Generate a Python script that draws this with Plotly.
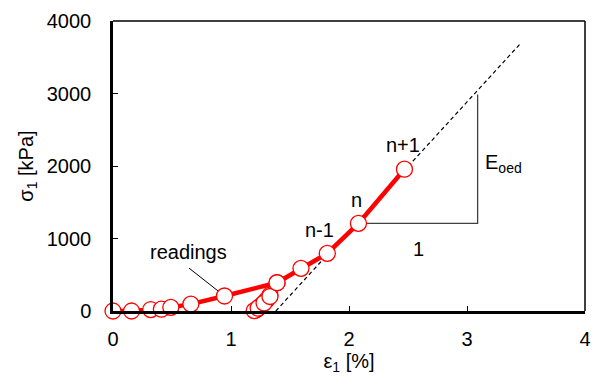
import plotly.graph_objects as go

# Oedometer test readings: axial strain [%] and axial stress [kPa]
strain = [0.0, 0.157, 0.32, 0.41, 0.49, 0.66, 0.945, 1.39,
          1.33, 1.30, 1.27, 1.24, 1.215, 1.197,
          1.23, 1.28, 1.33, 1.39, 1.593, 1.816, 2.08, 2.47]
stress = [0, 0, 20, 25, 50, 95, 207, 390,
          220, 150, 100, 55, 20, 5,
          40, 110, 200, 390, 588, 795, 1208, 1956]

# Tangent (oedometric modulus) line and slope triangle
tangent_x = [1.38, 3.46]
tangent_y = [0, 3702]
triangle_x = [2.08, 3.09, 3.09]
triangle_y = [1208, 1208, 2985]

# Leader line for the "readings" label
leader_x = [0.644, 0.95]
leader_y = [592, 200]

x_ticks = [0, 1, 2, 3, 4]
y_ticks = [0, 1000, 2000, 3000, 4000]

FONT = "Liberation Sans, Arial, sans-serif"
RED = "#FF0000"
FS = 20

fig = go.Figure()

fig.add_trace(go.Scatter(
    x=tangent_x, y=tangent_y, mode="lines",
    line=dict(color="black", width=1.2, dash="4px,3px"),
    hoverinfo="skip", showlegend=False, cliponaxis=False))

fig.add_trace(go.Scatter(
    x=triangle_x, y=triangle_y, mode="lines",
    line=dict(color="#404040", width=1.3),
    hoverinfo="skip", showlegend=False, cliponaxis=False))

fig.add_trace(go.Scatter(
    x=leader_x, y=leader_y, mode="lines",
    line=dict(color="black", width=1),
    hoverinfo="skip", showlegend=False, cliponaxis=False))

fig.add_trace(go.Scatter(
    x=strain, y=stress, mode="lines+markers",
    line=dict(color=RED, width=4.5),
    marker=dict(size=16, color="white", line=dict(color=RED, width=1.3)),
    showlegend=False, cliponaxis=False))

fig.update_xaxes(
    range=[0, 4], tickvals=x_ticks, ticktext=[str(v) for v in x_ticks],
    showgrid=False, zeroline=False, showline=True, linecolor="black", linewidth=2.5,
    ticks="inside", ticklen=5, tickwidth=1.3, tickcolor="black",
    ticklabelstandoff=8,
    tickfont=dict(family=FONT, size=FS, color="black"),
    title=dict(text="ε<sub>1</sub> [%]", font=dict(family=FONT, size=FS, color="black"), standoff=2))
fig.update_yaxes(
    range=[0, 4000], tickvals=y_ticks, ticktext=[str(v) for v in y_ticks],
    showgrid=False, zeroline=False, showline=True, linecolor="black", linewidth=2.5,
    ticks="inside", ticklen=5, tickwidth=1.3, tickcolor="black",
    ticklabelstandoff=15,
    tickfont=dict(family=FONT, size=FS, color="black"),
    title=dict(text="σ<sub>1</sub> [kPa]", font=dict(family=FONT, size=FS, color="black"), standoff=8))

# Upper and right frame edges (thinner than the axes)
fig.add_shape(type="line", xref="paper", yref="paper", x0=0, x1=1, y0=1, y1=1,
              line=dict(color="black", width=1.5))
fig.add_shape(type="line", xref="paper", yref="paper", x0=1, x1=1, y0=0, y1=1,
              line=dict(color="black", width=1.5))

label_font = dict(family=FONT, size=FS, color="black")
fig.add_annotation(x=0.644, y=813, text="readings", showarrow=False, font=label_font)
fig.add_annotation(x=1.747, y=1116, text="n-1", showarrow=False, font=label_font)
fig.add_annotation(x=2.06, y=1529, text="n", showarrow=False, font=label_font)
fig.add_annotation(x=2.457, y=2287, text="n+1", showarrow=False, font=label_font)
fig.add_annotation(x=3.31, y=2039, text="E<sub>oed</sub>", showarrow=False, font=label_font)
fig.add_annotation(x=2.59, y=854, text="1", showarrow=False, font=label_font)

fig.update_layout(
    width=597, height=376,
    margin=dict(l=113, r=6, t=21, b=65),
    paper_bgcolor="white", plot_bgcolor="white",
    font=dict(family=FONT, size=FS, color="black"),
)

fig.write_html("out.html")
